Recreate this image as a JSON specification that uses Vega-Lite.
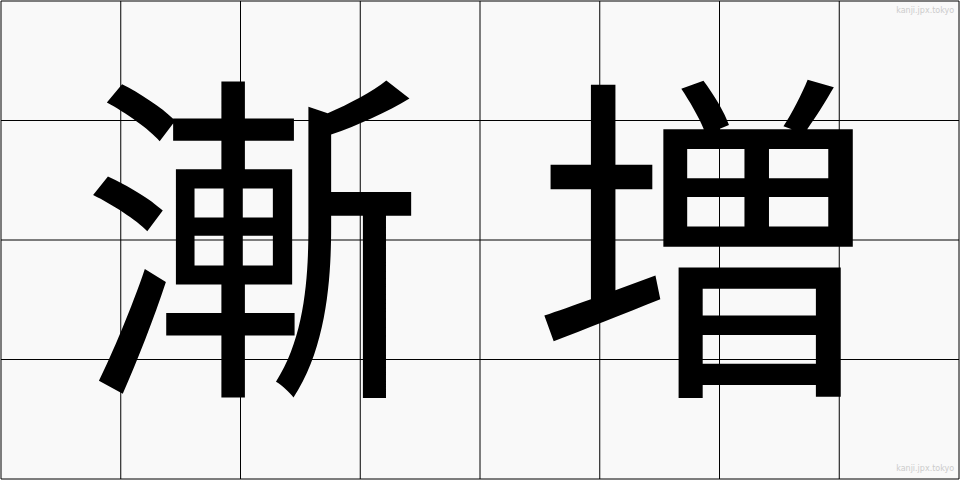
{
  "$schema": "https://vega.github.io/schema/vega-lite/v6.json",
  "width": 960,
  "height": 480,
  "autosize": {"type": "fit", "contains": "padding"},
  "padding": 0,
  "background": "#f9f9f9",
  "config": {"view": {"stroke": null}},
  "datasets": {
    "vlines": [{"x": 0}, {"x": 1}, {"x": 2}, {"x": 3}, {"x": 4}, {"x": 5}, {"x": 6}, {"x": 7}, {"x": 8}],
    "hlines": [{"y": 0}, {"y": 1}, {"y": 2}, {"y": 3}, {"y": 4}],
    "chars": [{"ch": "漸", "x": 2.1, "y": 2.22}, {"ch": "増", "x": 5.88, "y": 2.22}],
    "marks": [{"label": "kanji.jpx.tokyo", "x": 7.96, "y": 0.08}, {"label": "kanji.jpx.tokyo", "x": 7.96, "y": 3.92}]
  },
  "layer": [
    {
      "data": {"name": "vlines"},
      "mark": {"type": "rule", "color": "#000000", "strokeWidth": 1},
      "encoding": {
        "x": {"field": "x", "type": "quantitative", "scale": {"domain": [0, 8], "nice": false}, "axis": null}
      }
    },
    {
      "data": {"name": "hlines"},
      "mark": {"type": "rule", "color": "#000000", "strokeWidth": 1},
      "encoding": {
        "y": {"field": "y", "type": "quantitative", "scale": {"domain": [4, 0], "nice": false}, "axis": null}
      }
    },
    {
      "data": {"name": "chars"},
      "mark": {"type": "text", "font": "Noto Sans CJK JP", "fontSize": 345, "color": "#000000", "baseline": "middle", "align": "center"},
      "encoding": {
        "x": {"field": "x", "type": "quantitative", "scale": {"domain": [0, 8], "nice": false}, "axis": null},
        "y": {"field": "y", "type": "quantitative", "scale": {"domain": [4, 0], "nice": false}, "axis": null},
        "text": {"field": "ch"}
      }
    },
    {
      "data": {"name": "marks"},
      "mark": {"type": "text", "font": "DejaVu Sans", "fontSize": 8, "color": "#cccccc", "baseline": "middle", "align": "right"},
      "encoding": {
        "x": {"field": "x", "type": "quantitative", "scale": {"domain": [0, 8], "nice": false}, "axis": null},
        "y": {"field": "y", "type": "quantitative", "scale": {"domain": [4, 0], "nice": false}, "axis": null},
        "text": {"field": "label"}
      }
    }
  ]
}
